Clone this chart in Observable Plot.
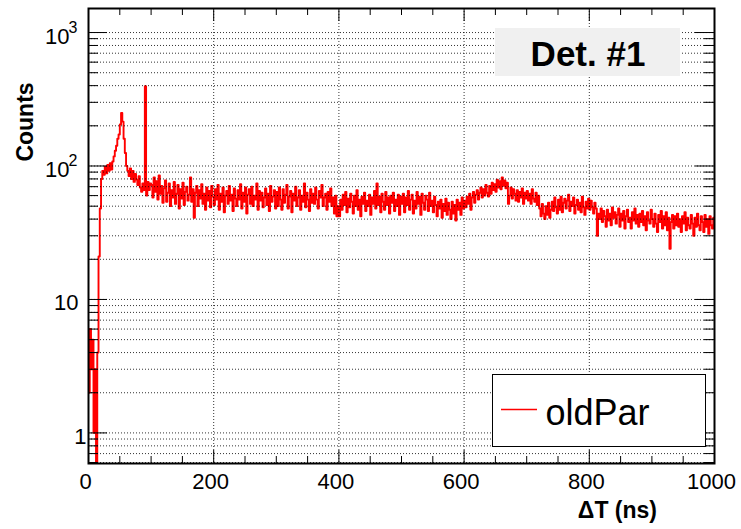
<!DOCTYPE html>
<html><head><meta charset="utf-8">
<script src="https://cdn.jsdelivr.net/npm/d3@7"></script>
<script src="https://cdn.jsdelivr.net/npm/@observablehq/plot@0.6"></script>
<style>body{margin:0;background:#fff;} svg{display:block}</style>
</head><body><div id="chart"></div>
<script>
// Histogram: 2 ns bins from 0 to 1000 ns
const binWidth = 2;
const counts000 = [2,6,3,5,1,3,0,4,21,48, 80,92,86,99,88,102,92,105,94,108, 118,130,142,160,172,205,250,215,160,125, 100,92,84,96,80,92,76,87,79,72, 84,69,64,74,66,396,60,76,66,74];
const counts100 = [72,58,82,64,77,56,85,62,71,53, 68,78,54,63,74,50,66,58,76,52, 62,72,48,67,57,75,51,64,70,55, 61,82,54,67,41,63,71,50,66,57, 73,52,62,47,69,55,65,49,71,59];
const counts200 = [51,67,56,72,47,62,54,69,45,60, 65,52,71,55,61,46,68,57,50,66, 56,73,48,63,54,69,44,61,67,52, 70,50,60,56,74,47,65,55,63,49, 58,68,51,62,46,71,54,59,66,48];
const counts300 = [64,50,69,56,47,67,53,61,72,48, 59,65,45,62,55,70,50,58,66,47, 60,54,74,49,63,56,46,67,53,62, 52,69,56,48,65,58,72,50,58,62, 47,64,54,68,50,58,44,60,42,50];
const counts400 = [42,56,47,61,51,64,45,57,49,62, 54,44,60,50,66,47,56,42,59,52, 63,46,55,50,61,43,58,52,65,48, 74,51,59,45,62,54,47,64,51,58, 44,60,53,63,46,56,50,61,43,59];
const counts500 = [52,62,45,58,51,65,47,56,61,44, 55,48,64,52,59,43,62,53,47,60, 56,46,63,50,55,45,59,51,42,54, 48,56,41,52,46,57,43,53,47,40, 54,44,51,39,56,47,53,43,58,48];
const counts600 = [55,49,59,52,62,47,58,64,53,61, 66,56,63,69,58,67,60,72,63,59, 71,62,75,66,73,64,79,69,77,67, 82,71,78,68,75,52,60,69,57,67, 62,55,66,54,64,58,68,52,63,57];
const counts700 = [65,55,62,52,67,57,54,63,51,60, 48,42,52,44,40,50,43,53,41,47, 54,46,58,49,44,56,47,59,45,53, 57,48,55,61,46,54,50,58,44,51, 56,47,53,45,59,49,43,54,48,57];
const counts800 = [47,55,49,44,53,48,30,44,40,48, 38,46,42,35,47,39,44,36,49,41, 45,37,43,48,35,44,39,46,34,42, 47,38,41,34,45,39,48,37,43,35, 44,38,46,36,42,33,45,39,37,47];
const counts900 = [40,35,44,37,32,43,38,46,34,42, 36,45,33,41,24,38,43,34,42,36, 44,35,40,32,42,37,45,33,41,36, 34,43,37,30,41,35,44,36,33,42, 38,32,43,35,40,31,42,36,34,41];

const xMajorTicks = [0,200,400,600,800,1000];
const xMinorTicks = [50,100,150,250,300,350,450,500,550,650,700,750,850,900,950];
const yMajorTicks = [1,10,100,1000];
const yMinorTicks = [0.6,0.7,0.8,0.9,2,3,4,5,6,7,8,9,20,30,40,50,60,70,80,90,200,300,400,500,600,700,800,900];
const yTickLabels = [{v:1, base:"1", exp:""},{v:10, base:"10", exp:""},{v:100, base:"10", exp:"2"},{v:1000, base:"10", exp:"3"}];
const yDomain = [0.59, 1514];
const xDomain = [0, 1000];
const xTitle = "ΔT (ns)";
const yTitle = "Counts";
const boxTitle = "Det. #1";
const legendLabel = "oldPar";

const counts = [].concat(counts000,counts100,counts200,counts300,counts400,counts500,counts600,counts700,counts800,counts900);
const steps = counts.map((c,i)=>({x:i*binWidth, y:Math.max(c,0.3)}));
steps.push({x:counts.length*binWidth, y:steps[steps.length-1].y});

const W=741,H=529,mL=88,mR=27,mT=8,mB=66;
const pw=W-mL-mR, ph=H-mT-mB;
const font="'Liberation Sans', Arial, Helvetica, sans-serif";
const gridOpts = {stroke:"#000", strokeOpacity:0.8, strokeDasharray:"1,2", strokeWidth:1};

const marks = [
  Plot.line(steps,{x:"x",y:"y",curve:"step-after",stroke:"#ff0000",strokeWidth:1.9,clip:true}),
  Plot.gridY(yMajorTicks.concat(yMinorTicks), gridOpts),
  Plot.gridX(xMajorTicks.slice(1,-1), gridOpts),
  Plot.tickY(yMajorTicks,{insetRight:pw-19,stroke:"#000"}),
  Plot.tickY(yMajorTicks,{insetLeft:pw-19,stroke:"#000"}),
  Plot.tickY(yMinorTicks,{insetRight:pw-10,stroke:"#000"}),
  Plot.tickY(yMinorTicks,{insetLeft:pw-10,stroke:"#000"}),
  Plot.tickX(xMajorTicks,{insetTop:ph-13,stroke:"#000"}),
  Plot.tickX(xMajorTicks,{insetBottom:ph-13,stroke:"#000"}),
  Plot.tickX(xMinorTicks,{insetTop:ph-7,stroke:"#000"}),
  Plot.tickX(xMinorTicks,{insetBottom:ph-7,stroke:"#000"}),
  Plot.frame({stroke:"#000",strokeWidth:2}),
  Plot.text(xMajorTicks,{x:d=>d,text:d=>String(d),frameAnchor:"bottom",lineAnchor:"bottom",dy:25,dx:-3,fontSize:22,fill:"#000"})
];
for (const l of yTickLabels) {
  const dx = l.exp ? -19 : (l.base==="10" ? -10 : -2);
  marks.push(Plot.text([l],{y:"v",text:"base",frameAnchor:"left",textAnchor:"end",lineAnchor:"bottom",dx,dy:11,fontSize:22,fill:"#000"}));
  if (l.exp) marks.push(Plot.text([l],{y:"v",text:"exp",frameAnchor:"left",textAnchor:"start",lineAnchor:"bottom",dx:-20,dy:0,fontSize:16,fill:"#000"}));
}

const plot = Plot.plot({
  width:W,height:H,marginLeft:mL,marginRight:mR,marginTop:mT,marginBottom:mB,
  x:{domain:xDomain,axis:null},
  y:{type:"log",domain:yDomain,axis:null},
  style:{fontFamily:font,background:"#fff",overflow:"visible"},
  marks
});
document.getElementById("chart").appendChild(plot);

const svg = d3.select(plot);
// axis titles
svg.append("text").attr("x",657).attr("y",518).attr("text-anchor","end")
  .attr("font-family",font).attr("font-weight","bold").attr("font-size",23).attr("fill","#000").text(xTitle);
svg.append("text").attr("transform","translate(33,122) rotate(-90)").attr("text-anchor","middle")
  .attr("font-family",font).attr("font-weight","bold").attr("font-size",23).attr("fill","#000").text(yTitle);
// title box
svg.append("rect").attr("x",495).attr("y",28).attr("width",185).attr("height",48).attr("fill","#f0f0f0");
svg.append("text").attr("x",588).attr("y",66).attr("text-anchor","middle")
  .attr("font-family",font).attr("font-weight","bold").attr("font-size",35).attr("fill","#000").text(boxTitle);
// legend
svg.append("rect").attr("x",492.5).attr("y",374.5).attr("width",213).attr("height",72).attr("fill","#fff").attr("stroke","#000").attr("stroke-width",1);
svg.append("line").attr("x1",501).attr("x2",537).attr("y1",409.5).attr("y2",409.5).attr("stroke","#ff0000").attr("stroke-width",1.5);
svg.append("text").attr("x",545.5).attr("y",425).attr("text-anchor","start")
  .attr("font-family",font).attr("font-size",36).attr("fill","#000").text(legendLabel);
</script></body></html>
